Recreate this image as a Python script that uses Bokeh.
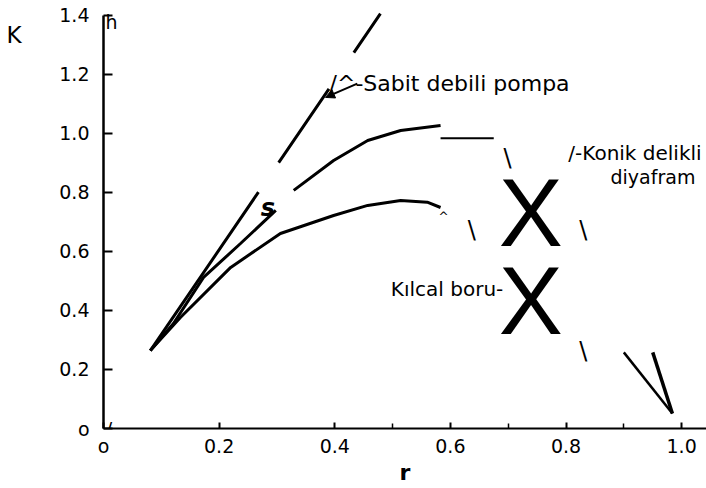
import math
from bokeh.plotting import figure
from bokeh.models import Range1d, FixedTicker, Label, Arrow, NormalHead, LinearAxis
from bokeh.embed import file_html
from bokeh.resources import INLINE

nan = math.nan

# ---- data (r, K); NaN marks a break in the printed line ----
pump_r = [0.081, 0.268, nan, 0.303, 0.390, nan, 0.433, 0.479]
pump_K = [0.264, 0.801, nan, 0.901, 1.151, nan, 1.274, 1.406]

orifice_r = [0.081, 0.121, 0.173, 0.237, 0.298, nan, 0.329, 0.398, 0.457, 0.514, 0.583]
orifice_K = [0.264, 0.356, 0.512, 0.627, 0.739, nan, 0.807, 0.908, 0.976, 1.010, 1.027]
orifice_flat_r = [0.583, 0.675]
orifice_flat_K = [0.984, 0.984]
orifice_tail_r = [0.950, 0.984]
orifice_tail_K = [0.258, 0.051]

capillary_r = [0.081, 0.133, 0.220, 0.306, 0.398, 0.457, 0.514, 0.560, 0.583]
capillary_K = [0.264, 0.376, 0.546, 0.661, 0.722, 0.756, 0.773, 0.767, 0.749]
capillary_tail_r = [0.900, 0.984]
capillary_tail_K = [0.258, 0.051]

x_ticks = [0, 0.2, 0.4, 0.6, 0.8, 1.0]
x_labels = ["o", "0.2", "0.4", "0.6", "0.8", "1.0"]
x_minor = [0.5, 0.7, 0.9]
y_ticks = [0, 0.2, 0.4, 0.6, 0.8, 1.0, 1.2, 1.4]
y_labels = ["o", "0.2", "0.4", "0.6", "0.8", "1.0", "1.2", "1.4"]
y_name_at = [1.335]
y_name = ["K"]

FONT = "DejaVu Sans"
W, H = 706, 488

p = figure(width=W, height=H, x_range=Range1d(0, 1.043), y_range=Range1d(0, 1.42),
           output_backend="svg", toolbar_location=None,
           min_border_left=103, min_border_right=0, min_border_top=9, min_border_bottom=60)
p.grid.visible = False
p.outline_line_color = None
p.background_fill_color = "white"
p.border_fill_color = "white"

# x axis
p.xaxis.ticker = FixedTicker(ticks=x_ticks, minor_ticks=x_minor)
p.xaxis.major_label_overrides = dict(zip(x_ticks, x_labels))
p.xaxis.major_tick_in = 6
p.xaxis.major_tick_out = 0
p.xaxis.minor_tick_in = 5
p.xaxis.minor_tick_out = 0
p.xaxis.axis_line_width = 2
p.xaxis.major_tick_line_width = 2
p.xaxis.minor_tick_line_width = 1.5
p.xaxis.major_label_standoff = 6
p.xaxis.major_label_text_font = FONT
p.xaxis.major_label_text_font_size = "19px"
p.xaxis.major_label_text_color = "black"
p.xaxis.axis_label = "r"
p.xaxis.axis_label_standoff = 0
p.xaxis.axis_label_text_font = FONT
p.xaxis.axis_label_text_font_size = "22px"
p.xaxis.axis_label_text_font_style = "bold"
p.xaxis.axis_label_text_color = "black"

# y axis
yax = p.yaxis[0]
yax.ticker = FixedTicker(ticks=y_ticks, minor_ticks=[])
yax.major_label_overrides = dict(zip(y_ticks, y_labels))
yax.bounds = (0, 1.4)
yax.major_tick_in = 9
yax.major_tick_out = 0
yax.axis_line_width = 2.5
yax.major_tick_line_width = 2
yax.major_label_standoff = 14
yax.major_label_text_font = FONT
yax.major_label_text_font_size = "19px"
yax.major_label_text_color = "black"

# the upright "K" name of the vertical axis, printed at its top-left
name_axis = LinearAxis(ticker=FixedTicker(ticks=y_name_at, minor_ticks=[]),
                       major_label_overrides=dict(zip(y_name_at, y_name)),
                       axis_line_color=None, major_tick_line_color=None,
                       minor_tick_line_color=None, major_label_standoff=29,
                       major_label_text_font=FONT, major_label_text_font_size="23px",
                       major_label_text_color="black")
p.add_layout(name_axis, "left")

# curves
p.line(pump_r, pump_K, line_color="black", line_width=3)
p.line(orifice_r, orifice_K, line_color="black", line_width=3)
p.line(orifice_flat_r, orifice_flat_K, line_color="black", line_width=2)
p.line(orifice_tail_r, orifice_tail_K, line_color="black", line_width=3.5)
p.line(capillary_r, capillary_K, line_color="black", line_width=3)
p.line(capillary_tail_r, capillary_tail_K, line_color="black", line_width=2.5)

# arrow to the pump line
p.add_layout(Arrow(end=NormalHead(size=9, fill_color="black", line_color="black"),
                   x_start=0.439, y_start=1.169, x_end=0.384, y_end=1.122,
                   line_color="black", line_width=2))


def lab(x, y, text, size="20px", align="left", baseline="alphabetic", style="normal",
        font=FONT):
    p.add_layout(Label(x=x, y=y, text=text, text_font=font, text_font_size=size,
                       text_align=align, text_baseline=baseline, text_font_style=style,
                       text_color="black"))


lab(0.391, 1.169, "/^-Sabit debili pompa", size="22px")
lab(0.804, 0.935, "/-Konik delikli", size="20px")
lab(0.877, 0.852, "diyafram", size="19px")
lab(0.497, 0.473, "Kılcal boru-", size="20px")
lab(0.272, 0.746, "s", size="24px", style="bold italic")
lab(0.739, 0.732, "X", size="96px", align="center", font="Liberation Sans")
lab(0.739, 0.434, "X", size="96px", align="center", font="Liberation Sans")
lab(0.588, 0.739, "^", size="12px", align="center", baseline="top")
lab(0.637, 0.674, "\\", size="24px", align="center")
lab(0.699, 0.918, "\\", size="24px", align="center")
lab(0.830, 0.674, "\\", size="24px", align="center")
lab(0.830, 0.264, "\\", size="24px", align="center")
lab(0.0035, 1.376, "h", size="19px")
lab(0.004, 0.0, "/", size="19px")
lab(0.106, 0.007, ",", size="19px")

open("out.html", "w").write(file_html(p, INLINE))
